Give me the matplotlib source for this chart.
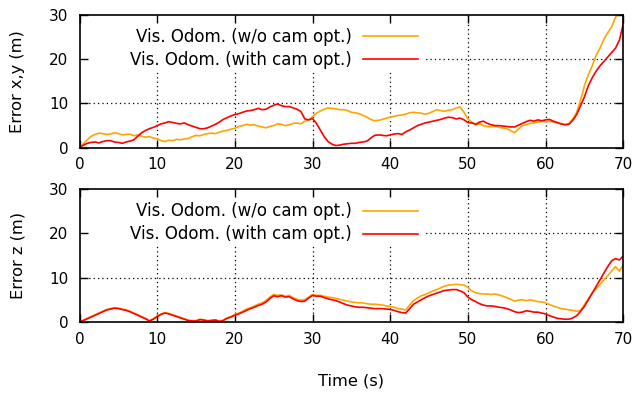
import matplotlib
matplotlib.use("Agg")
import matplotlib.pyplot as plt
import numpy as np
from matplotlib.patches import Rectangle

# time samples every 0.5 s, 0 .. 70 s
t = np.arange(0, 70.25, 0.5)

xy_wo = [0.0, 0.9, 1.8, 2.6, 3.0, 3.3, 3.2, 3.0, 3.1, 3.4,
         3.2, 2.9, 3.0, 3.1, 2.7, 2.9, 2.6, 2.4, 2.5, 2.2,
         2.0, 1.6, 1.4, 1.7, 1.6, 1.9, 1.8, 2.0, 2.1, 2.5,
         2.8, 2.7, 3.0, 3.2, 3.3, 3.2, 3.5, 3.8, 3.9, 4.2,
         4.4, 4.8, 5.0, 5.3, 5.1, 5.2, 4.9, 4.7, 4.5, 4.8,
         5.0, 5.4, 5.3, 5.0, 5.2, 5.5, 5.6, 5.4, 6.0, 6.3,
         7.0, 7.8, 8.3, 8.7, 9.0, 8.9, 8.8, 8.6, 8.6, 8.4,
         8.0, 7.9, 7.7, 7.3, 6.9, 6.4, 6.1, 6.2, 6.4, 6.7,
         6.9, 7.1, 7.3, 7.4, 7.6, 7.9, 8.0, 7.9, 7.8, 7.6,
         7.8, 8.2, 8.6, 8.4, 8.2, 8.5, 8.6, 9.0, 9.2, 8.0,
         6.5, 5.8, 5.2, 5.4, 5.0, 4.8, 4.7, 4.9, 4.6, 4.5,
         4.3, 3.9, 3.4, 4.2, 5.0, 5.2, 5.5, 5.6, 5.8, 5.9,
         5.9, 6.0, 5.8, 5.6, 5.4, 5.2, 5.5, 6.5, 8.0, 10.8,
         14.0, 16.5, 18.5, 20.8, 22.5, 24.5, 26.0, 27.3, 29.5, 30.5,
         32.0]
xy_with = [0.0, 0.6, 1.0, 1.2, 1.3, 1.1, 1.4, 1.6, 1.6, 1.3,
           1.2, 1.0, 1.3, 1.5, 1.8, 2.6, 3.4, 3.9, 4.3, 4.6,
           5.0, 5.4, 5.6, 5.9, 5.7, 5.5, 5.4, 5.6, 5.2, 4.9,
           4.6, 4.3, 4.3, 4.5, 4.9, 5.3, 5.8, 6.4, 6.8, 7.2,
           7.5, 7.7, 8.0, 8.3, 8.4, 8.6, 8.9, 8.6, 8.7, 9.2,
           9.6, 9.9, 9.5, 9.3, 9.3, 9.0, 8.7, 8.2, 6.5, 6.3,
           6.6, 5.5, 4.0, 2.5, 1.4, 0.8, 0.5, 0.6, 0.8, 0.9,
           1.0, 1.0, 1.2, 1.3, 1.5, 2.2, 2.8, 2.9, 2.8, 2.7,
           2.9, 3.1, 3.2, 3.0, 3.6, 4.0, 4.5, 5.0, 5.3, 5.6,
           5.8, 6.0, 6.2, 6.4, 6.7, 6.9, 6.8, 6.5, 6.7, 6.3,
           5.7, 5.6, 5.3, 5.8, 6.0, 5.5, 5.2, 5.0, 5.0, 4.9,
           4.8, 4.7, 4.7, 5.1, 5.5, 5.9, 6.2, 6.0, 6.3, 6.1,
           6.3, 6.4, 6.0, 5.7, 5.4, 5.2, 5.3, 6.2, 7.5, 9.5,
           11.5, 14.0, 15.8, 17.3, 18.5, 19.5, 20.5, 21.5, 22.5, 24.3,
           28.0]
z_wo = [0.0, 0.4, 0.8, 1.2, 1.6, 2.0, 2.4, 2.8, 3.0, 3.2,
        3.1, 2.9, 2.7, 2.4, 2.0, 1.6, 1.2, 0.8, 0.3, 0.7,
        1.3, 1.8, 2.1, 1.9, 1.6, 1.3, 1.0, 0.7, 0.4, 0.3,
        0.3, 0.6, 0.5, 0.3, 0.4, 0.5, 0.2, 0.4, 0.9, 1.2,
        1.7, 2.0, 2.4, 2.9, 3.2, 3.6, 4.0, 4.3, 4.8, 5.6,
        6.2, 6.0, 6.1, 5.8, 6.0, 5.5, 5.1, 4.9, 5.0, 5.6,
        6.2, 6.0, 6.0, 5.8, 5.6, 5.5, 5.3, 5.1, 4.9, 4.7,
        4.5, 4.4, 4.3, 4.3, 4.1, 4.0, 4.0, 3.9, 3.8, 3.6,
        3.5, 3.3, 3.0, 2.9, 2.7, 3.8, 4.8, 5.4, 5.9, 6.2,
        6.6, 7.0, 7.3, 7.7, 8.1, 8.3, 8.4, 8.5, 8.4, 8.3,
        7.8, 7.0, 6.6, 6.4, 6.3, 6.3, 6.2, 6.3, 6.1, 5.8,
        5.5, 5.1, 4.7, 4.9, 5.0, 4.8, 5.0, 4.8, 4.6, 4.5,
        4.3, 3.9, 3.6, 3.3, 3.0, 2.9, 2.7, 2.6, 2.4, 2.6,
        3.9, 5.2, 6.5, 7.5, 8.5, 9.5, 10.4, 11.5, 12.5, 11.5,
        12.9]
z_with = [0.0, 0.3, 0.7, 1.1, 1.5, 1.9, 2.3, 2.7, 2.9, 3.1,
          3.0, 2.8, 2.6, 2.3, 1.9, 1.5, 1.1, 0.7, 0.2, 0.6,
          1.2, 1.7, 2.0, 1.8, 1.5, 1.2, 0.9, 0.6, 0.3, 0.2,
          0.2, 0.5, 0.4, 0.2, 0.3, 0.4, 0.1, 0.3, 0.8, 1.1,
          1.5, 1.8, 2.2, 2.6, 3.0, 3.3, 3.7, 4.0, 4.5, 5.3,
          5.9, 5.7, 5.9, 5.6, 5.7, 5.2, 4.8, 4.6, 4.7, 5.4,
          6.0, 5.8, 5.8, 5.5, 5.2, 5.0, 4.8, 4.5, 4.1, 3.8,
          3.6, 3.4, 3.3, 3.3, 3.2, 3.1, 3.0, 3.0, 3.0, 2.9,
          2.8, 2.6, 2.3, 2.1, 2.0, 3.0, 4.0, 4.5, 5.0, 5.5,
          5.9, 6.2, 6.5, 6.8, 7.1, 7.2, 7.3, 7.3, 7.0, 6.6,
          5.6, 5.0, 4.6, 4.1, 3.8, 3.6, 3.6, 3.5, 3.3, 3.2,
          3.0, 2.7, 2.3, 2.1, 2.2, 2.5, 2.4, 2.2, 2.2, 2.0,
          1.8, 1.4, 1.1, 0.8, 0.7, 0.6, 0.6, 0.9, 1.4, 2.4,
          3.5, 5.0, 6.5, 8.0, 9.5, 11.0, 12.5, 13.8, 14.3, 14.0,
          14.9]

labels = ["Vis. Odom. (w/o cam opt.)", "Vis. Odom. (with cam opt.)"]
ylabels = ["Error x,y (m)", "Error z (m)"]
xlabel = "Time (s)"
xticks = [0, 10, 20, 30, 40, 50, 60, 70]
yticks = [0, 10, 20, 30]

ORANGE = "#FFA500"
RED = "#FF0000"

plt.rcParams["font.family"] = ["DejaVu Sans"]
plt.rcParams["font.size"] = 11

fig = plt.figure(figsize=(6.36, 3.94), dpi=100)
L, R = 0.125, 0.980
ax1 = fig.add_axes([L, 0.625, R - L, 0.962 - 0.625])
ax2 = fig.add_axes([L, 0.183, R - L, 0.520 - 0.183])

for ax, a, b, yl in [(ax1, xy_wo, xy_with, ylabels[0]), (ax2, z_wo, z_with, ylabels[1])]:
    ax.set_xlim(0, 70)
    ax.set_ylim(0, 30)
    ax.set_xticks(xticks)
    ax.set_yticks(yticks)
    for v in xticks[1:-1]:
        ax.axvline(v, color="black", lw=0.9, ls=(0, (1, 2.5)), zorder=0.5)
    for v in yticks[1:-1]:
        ax.axhline(v, color="black", lw=0.9, ls=(0, (1, 2.5)), zorder=0.5)
    ax.add_patch(Rectangle((0, 0.584), 0.631, 0.416, transform=ax.transAxes,
                           facecolor="white", edgecolor="none", zorder=1))
    la, = ax.plot(t, a, color=ORANGE, lw=1.2, zorder=2)
    lb, = ax.plot(t, b, color=RED, lw=1.2, zorder=2.1)
    ax.tick_params(direction="in", length=6, width=1, top=True, right=True, labelsize=11)
    ax.tick_params(axis="y", pad=8)
    ax.tick_params(axis="x", pad=7)
    for s in ax.spines.values():
        s.set_linewidth(1.2)
    ax.set_ylabel(yl, fontsize=11.7, labelpad=17)
    leg = ax.legend([la, lb], labels, loc="upper right", bbox_to_anchor=(0.634, 0.95),
                    frameon=False, markerfirst=False, handlelength=3.3, handletextpad=0.66,
                    labelspacing=0.3, fontsize=12, borderaxespad=0)
    leg.set_zorder(3)

ax2.set_xlabel(xlabel, fontsize=11.7, labelpad=19)

fig.savefig("out.png", dpi=100)
